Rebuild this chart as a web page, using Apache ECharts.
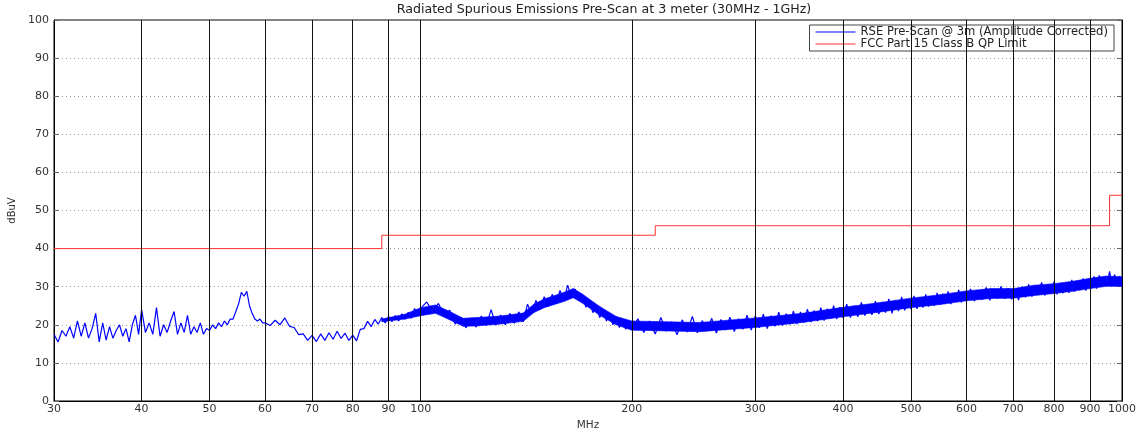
<!DOCTYPE html>
<html><head><meta charset="utf-8">
<script src="https://cdn.jsdelivr.net/npm/echarts@6/dist/echarts.min.js"></script>
<style>html,body{margin:0;padding:0;background:#fff}#c{width:1144px;height:428px}</style>
</head><body><div id="c"></div>
<script>
// ---- data (MHz / dBuV) ----
const freqA=[30.0,30.4,30.8,31.2,31.6,32.0,32.4,32.8,33.2,33.6,34.0,34.4,34.8,35.2,35.6,36.0,36.4,36.8,37.2,37.6,38.0,38.4,38.8,39.2,39.6,40.0];
const levelA=[17.5,15.5,18.5,17.0,19.5,16.5,21.0,17.0,20.5,16.5,19.0,23.0,15.5,20.5,16.0,19.5,16.5,18.5,20.0,17.0,19.0,15.5,20.0,22.5,17.5,24.0];
const freqB=[40.5,41,41.5,42,42.5,43,43.5,44,44.5,45,45.5,46,46.5,47,47.5,48,48.5,49,49.5,50,50.5,51,51.5,52,52.5,53,53.5,54,54.5,55,55.5,56,56.5,57,57.5,58,58.5,59,59.5,60];
const levelB=[18.0,20.5,17.5,24.5,17.0,20.0,18.0,21.0,23.5,17.5,20.5,18.0,22.5,17.5,19.5,18.0,20.5,17.5,19.0,18.5,20.0,19.0,20.5,19.5,21.0,20.0,21.5,21.5,23.5,25.5,28.5,27.5,28.8,25.0,23.0,21.5,21.0,21.5,20.5,20.5];
const freqC=[61,62,63,64,65,66,67,68,69,70,71,72,73,74,75,76,77,78,79,80,81,82,83,84,85,86,87,88,89,90,91,92,93,94,95,96,97,98,99,100];
const levelC=[19.8,21.2,20.0,21.8,19.6,19.3,17.4,17.6,15.9,17.2,15.6,17.6,15.9,17.9,16.2,18.3,16.4,17.8,15.9,17.3,15.8,18.8,19.0,20.9,19.5,21.4,20.2,21.9,20.5,22.2,20.8,22.4,21.0,22.9,21.5,23.3,21.7,24.3,22.4,24.3];
const freqD=[102,104,106,108,110,112,114,116,118,120,122,124,126,128,130,132,134,136,138,140,142,144,146,148,150,152,154,156,158,160,162,164,166,168,170,172,174,176,178,180,182,184,186,188,190,192,194,196,198,200];
const levelD=[26.0,23.4,25.6,22.6,23.8,20.2,22.0,19.2,21.8,19.4,22.3,19.8,24.0,19.9,22.6,20.0,23.0,20.4,23.4,20.8,25.4,22.9,26.4,24.0,27.4,24.8,28.0,25.6,29.0,26.4,30.4,27.2,29.4,26.4,27.9,24.6,26.4,23.2,24.9,21.9,23.8,21.0,22.8,20.0,22.2,19.3,21.4,18.8,21.0,18.6];
const freqE=[204,208,212,216,220,224,228,232,236,240,244,248,252,256,260,264,268,272,276,280,284,288,292,296,300,304,308,312,316,320,324,328,332,336,340,344,348,352,356,360,364,368,372,376,380,384,388,392,396,400];
const levelE=[21.6,18.0,21.0,17.6,21.9,18.3,20.8,17.4,21.3,18.1,22.2,17.9,21.1,18.4,21.7,17.8,21.4,18.6,22.0,18.2,21.6,18.8,22.5,18.6,22.3,19.2,22.8,19.0,22.4,19.6,23.3,19.8,22.9,20.1,23.6,20.2,23.4,20.6,24.1,20.7,23.8,21.0,24.5,21.1,24.2,21.6,25.0,21.5,24.6,21.8];
const freqF=[405,410,415,420,425,430,435,440,445,450,455,460,465,470,475,480,485,490,495,500,505,510,515,520,525,530,535,540,545,550,555,560,565,570,575,580,585,590,595,600];
const levelF=[25.4,21.9,25.0,22.1,25.9,22.4,25.3,22.6,26.2,22.8,26.0,23.2,26.8,23.0,26.4,23.6,27.3,23.8,26.7,24.1,27.6,24.2,27.2,24.5,28.0,24.8,27.5,25.0,28.4,25.3,28.2,25.5,28.8,25.4,28.3,26.0,29.2,25.9,28.7,26.2];
const freqG=[608,616,624,632,640,648,656,664,672,680,688,696,704,712,720,728,736,744,752,760,768,776,784,792,800,808,816,824,832,840,848,856,864,872,880,888,896,904,912,920,928,936,944,952,960,968,976,984,992,1000];
const levelG=[29.4,26.2,29.0,26.6,29.8,26.4,29.3,26.9,30.1,26.8,29.6,26.7,29.2,26.5,30.0,27.2,30.6,27.4,30.2,27.8,31.1,27.7,30.6,28.2,31.3,28.0,30.5,28.3,31.0,28.4,31.8,28.7,31.3,29.1,32.2,29.0,32.0,29.6,32.7,29.5,33.0,30.0,32.4,30.3,34.0,30.1,33.2,30.4,32.8,30.2];

// dense-noise envelope of the trace (solid core of the band)
const bandFreq=[88,95,100,105,110,115,120,130,140,145,150,160,165,170,180,190,200,250,300,350,400,450,500,550,600,650,700,750,800,850,900,950,1000];
const bandLow =[20.8,21.5,22.4,23.0,21.3,19.6,19.7,20.2,20.9,23.2,24.5,26.1,27.1,25.7,22.5,20.0,18.6,18.2,19.3,20.6,22.1,23.3,24.5,25.3,26.3,26.9,27.0,27.7,28.2,28.8,29.5,30.1,30.1];
const bandHigh=[21.5,22.8,24.5,25.2,23.5,21.7,21.9,22.3,23.1,25.4,26.8,28.5,29.5,28.1,24.8,22.2,21.0,20.6,21.8,23.0,24.6,25.8,27.0,27.9,28.9,29.5,29.5,30.4,30.8,31.4,32.2,32.8,32.6];

const limitFreq=[30,88,88,216,216,960,960,1000];
const limitLevel=[40,40,43.5,43.5,46,46,54,54];

const xTickValues=[30,40,50,60,70,80,90,100,200,300,400,500,600,700,800,900,1000];
const xGridFreqs=[40,50,60,70,80,90,100,200,300,400,500,600,700,800,900];

const titleText='Radiated Spurious Emissions Pre-Scan at 3 meter (30MHz - 1GHz)';
const seriesNames=['RSE Pre-Scan @ 3m (Amplitude Corrected)','FCC Part 15 Class B QP Limit'];

// ---- build ----
const zip=(f,v)=>f.map((x,i)=>[x,v[i]]);
const rseData=[].concat(zip(freqA,levelA),zip(freqB,levelB),zip(freqC,levelC),zip(freqD,levelD),zip(freqE,levelE),zip(freqF,levelF),zip(freqG,levelG));
const limitData=zip(limitFreq,limitLevel);
const bandData=bandFreq.map((f,i)=>[f,bandLow[i],bandHigh[i]]);

const FONT='DejaVu Sans';
const BLUE='#0000ff';
const chart=echarts.init(document.getElementById('c'),null,{renderer:'canvas'});
chart.setOption({
  animation:false,
  backgroundColor:'#fff',
  graphic:[{type:'text',x:604,y:10,style:{text:titleText,align:'center',verticalAlign:'middle',fontFamily:FONT,fontSize:12.6,fill:'#222'}}],
  legend:{
    data:seriesNames.map(n=>({name:n,icon:'rect'})),orient:'vertical',right:30,top:25,
    backgroundColor:'#fff',borderColor:'#444',borderWidth:1,padding:[1,6,1,6],
    itemGap:0,itemWidth:40,itemHeight:1,
    textStyle:{fontFamily:FONT,fontSize:11.6,color:'#222'}
  },
  grid:{left:54,right:22,top:20,bottom:27,show:true,borderColor:'#000',borderWidth:1,containLabel:false,outerBoundsMode:'none'},
  xAxis:{
    type:'log',logBase:10,min:30,max:1000,
    name:'MHz',nameLocation:'middle',nameGap:13,
    nameTextStyle:{fontFamily:FONT,fontSize:10.5,color:'#333'},
    axisLine:{show:true,lineStyle:{color:'#000',width:1}},
    axisTick:{show:false},minorTick:{show:false},
    splitLine:{show:false},minorSplitLine:{show:false},
    axisLabel:{customValues:xTickValues,margin:3,fontFamily:FONT,fontSize:11,color:'#333',formatter:v=>String(Math.round(v))}
  },
  yAxis:[{
    type:'value',min:0,max:100,interval:10,position:'left',
    name:'dBuV',nameLocation:'middle',nameGap:31,
    nameTextStyle:{fontFamily:FONT,fontSize:10,color:'#333'},
    axisLine:{show:true,lineStyle:{color:'#000',width:1}},
    axisTick:{show:true,inside:true,length:5,lineStyle:{color:'#666'}},
    splitLine:{show:true,lineStyle:{color:'#999',type:[1,3],width:1}},
    axisLabel:{margin:5,fontFamily:FONT,fontSize:11,color:'#333'}
  },{
    type:'value',min:0,max:100,interval:10,position:'right',
    axisLine:{show:true,lineStyle:{color:'#000',width:1}},
    axisTick:{show:true,inside:true,length:5,lineStyle:{color:'#666'}},
    splitLine:{show:false},axisLabel:{show:false}
  }],
  series:[{
    name:'noiseBand',type:'custom',data:bandData,silent:true,z:2,clip:true,
    encode:{x:0,y:[1,2]},
    renderItem:(params,api)=>{
      const i=params.dataIndex;
      if(i>=bandData.length-1) return null;
      const a=bandData[i],b=bandData[i+1];
      const pts=[api.coord([a[0],a[1]]),api.coord([b[0],b[1]]),api.coord([b[0],b[2]]),api.coord([a[0],a[2]])];
      return {type:'polygon',shape:{points:pts},style:{fill:BLUE,stroke:BLUE,lineWidth:0.6}};
    }
  },{
    name:seriesNames[0],type:'line',data:rseData,symbol:'none',sampling:null,
    lineStyle:{color:BLUE,width:1.2},itemStyle:{color:BLUE},z:3
  },{
    name:seriesNames[1],type:'line',data:limitData,symbol:'none',
    lineStyle:{color:'#ff3030',width:1},itemStyle:{color:'#ff3030'},z:4,
    markLine:{silent:true,symbol:['none','none'],label:{show:false},
      lineStyle:{color:'#111',width:1,type:'solid'},
      emphasis:{disabled:true},
      data:xGridFreqs.map(f=>({xAxis:f}))}
  }]
});
</script></body></html>
